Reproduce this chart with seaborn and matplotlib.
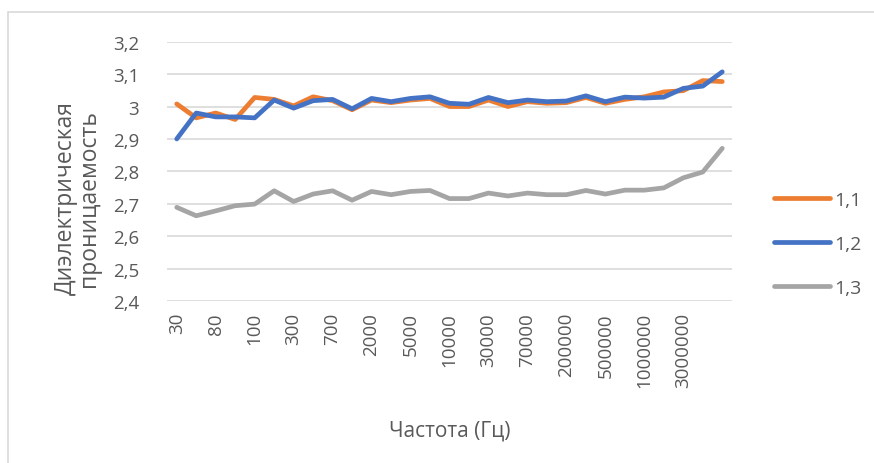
import numpy as np
import pandas as pd
import matplotlib
matplotlib.use("Agg")
import matplotlib.pyplot as plt
import seaborn as sns
from matplotlib.patches import Rectangle

# ---- data ----
tick_labels = ["30", "80", "100", "300", "700", "2000", "5000", "10000",
               "30000", "70000", "200000", "500000", "1000000", "3000000"]
series_names = ["1,1", "1,2", "1,3"]
s11 = [3.008, 2.965, 2.980, 2.960, 3.028, 3.022, 3.002, 3.030, 3.018, 2.990,
       3.020, 3.012, 3.020, 3.025, 3.000, 3.000, 3.020, 3.000, 3.015, 3.010,
       3.012, 3.028, 3.010, 3.022, 3.030, 3.045, 3.049, 3.080, 3.077]
s12 = [2.900, 2.980, 2.968, 2.968, 2.965, 3.020, 2.995, 3.018, 3.022, 2.993,
       3.025, 3.015, 3.025, 3.030, 3.010, 3.007, 3.028, 3.012, 3.020, 3.015,
       3.017, 3.033, 3.015, 3.029, 3.026, 3.029, 3.056, 3.063, 3.107]
s13 = [2.689, 2.663, 2.678, 2.694, 2.699, 2.740, 2.707, 2.730, 2.740, 2.711,
       2.738, 2.728, 2.738, 2.741, 2.716, 2.716, 2.733, 2.724, 2.733, 2.728,
       2.728, 2.741, 2.730, 2.742, 2.742, 2.749, 2.780, 2.798, 2.871]
y_ticks = [2.4, 2.5, 2.6, 2.7, 2.8, 2.9, 3.0, 3.1, 3.2]
y_tick_labels = ["2,4", "2,5", "2,6", "2,7", "2,8", "2,9", "3", "3,1", "3,2"]

pos = np.arange(len(s11))
df = pd.concat([
    pd.DataFrame({"x": pos, "y": s, "series": name})
    for name, s in zip(series_names, [s11, s12, s13])
], ignore_index=True)

sns.set_theme(style="white")
plt.rcParams["font.family"] = ["Open Sans", "DejaVu Sans"]

W, H = 874, 464
fig = plt.figure(figsize=(W / 100, H / 100), dpi=100)
ax = fig.add_axes([167 / W, 1 - 302 / H, (732 - 167) / W, (302 - 42.7) / H])

palette = {"1,1": "#ED7D31", "1,2": "#4472C4", "1,3": "#A5A5A5"}
LW = 3.4
sns.lineplot(data=df, x="x", y="y", hue="series", palette=palette,
             linewidth=LW, ax=ax, legend=False, zorder=3)

ax.set_xlim(-0.5, len(s11) - 0.5)
ax.set_ylim(2.4, 3.2)
ax.set_yticks(y_ticks)
ax.set_yticklabels(y_tick_labels)
ax.set_xticks(pos[::2][:len(tick_labels)])
ax.set_xticklabels(tick_labels, rotation=90)
ax.grid(axis="y", color="#D9D9D9", linewidth=1.2)
ax.grid(axis="x", visible=False)
for sp in ax.spines.values():
    sp.set_visible(False)
ax.tick_params(axis="both", length=0, labelsize=13.5, colors="#595959")
ax.tick_params(axis="y", pad=20)
ax.tick_params(axis="x", pad=8)

ax.set_xlabel("Частота (Гц)", fontsize=15, color="#595959", labelpad=23)
ax.set_ylabel("Диэлектрическая\nпроницаемость", fontsize=16.5,
              color="#595959", linespacing=1.0)
ax.yaxis.set_label_coords(-0.116, 0.40)

# legend
handles = [plt.Line2D([], [], color=palette[n], linewidth=LW) for n in series_names]
leg = fig.legend(handles, series_names, loc="center left",
                 bbox_to_anchor=(756 / W, 1 - 245 / H), frameon=False,
                 fontsize=14, handlelength=2.9, handletextpad=0.2,
                 labelspacing=1.35, labelcolor="#595959")

# chart border
fig.add_artist(Rectangle((8 / W, -0.02), 1.1, 1 - 13 / H + 0.02,
                         transform=fig.transFigure, fill=False,
                         edgecolor="#D9D9D9", linewidth=1.2))

fig.savefig("out.png", dpi=100, facecolor="white")
